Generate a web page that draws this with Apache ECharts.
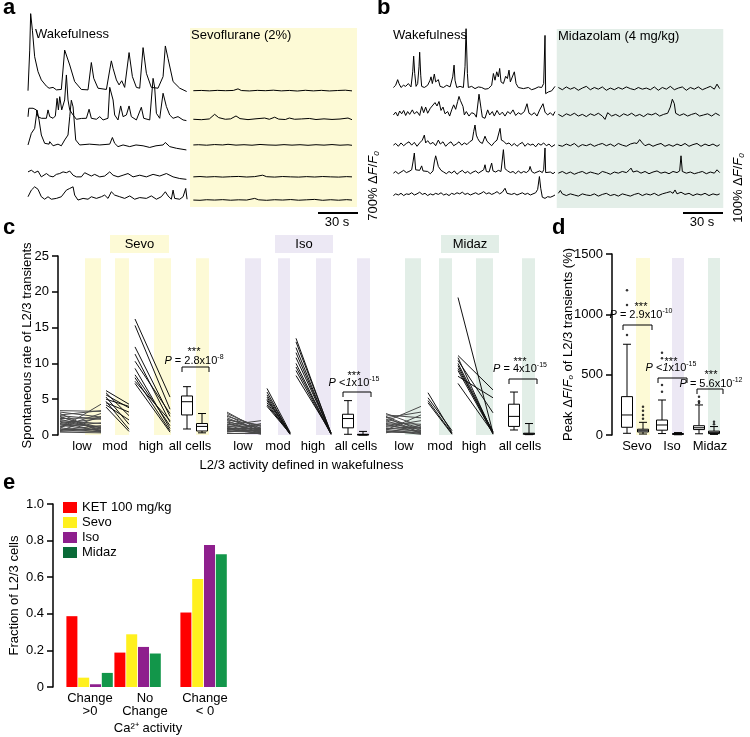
<!DOCTYPE html>
<html>
<head>
<meta charset="utf-8">
<script src="https://cdn.jsdelivr.net/npm/echarts/dist/echarts.min.js"></script>
<style>
html, body { margin: 0; padding: 0; background: #fff; }
#fig { width: 750px; height: 737px; }
</style>
</head>
<body>
<div id="fig"></div>
<script>
const FONT = '"Liberation Sans", Arial, sans-serif'

// ---- panel a: calcium traces, [time (s), dF/F0 (%)]
const aWake1 = [[0,0],[1.3,490],[2,930],[3.3,730],[5,410],[7.5,230],[10,130],[13.8,55],[15.8,30],[17,15],[18.8,40],[21.3,10],[25,15],[27.5,490],[28.8,500],[31.3,310],[35,110],[40,15],[45,10],[47.5,340],[49.3,150],[52.5,30],[58.8,15],[61.3,250],[62.5,360],[63.8,270],[66.3,130],[68.3,70],[70.3,120],[72.5,40],[75.8,460],[78.3,170],[81.3,40],[83.8,30],[86.3,520],[88.8,210],[92.5,40],[97.5,30],[101.3,170],[103,540],[105,390],[108.8,110],[113.8,30],[119,-10]]
const aWake2 = [[0,30],[0.6,133],[1.3,153],[3.8,133],[6.3,113],[7.5,32],[10,12],[13.8,12],[15,113],[16.3,32],[18.8,12],[20.5,40],[21.8,253],[22.8,113],[23.8,273],[25.3,113],[27.5,233],[28.8,535],[30,233],[31.3,113],[33.8,52],[36.3,0],[40,10],[43.8,12],[45.8,121],[47.5,12],[51.3,0],[53.8,32],[56.3,-8],[60,12],[61.3,386],[62.5,374],[63.8,233],[65,52],[67.5,-8],[69.5,161],[71.3,32],[73.8,52],[75.8,161],[77.5,32],[81.3,-8],[85,145],[86.8,12],[91.3,-8],[93.8,494],[95,386],[96.3,72],[98.8,12],[101.3,314],[103.8,153],[106.3,52],[108.8,12],[112.5,32],[116.3,-8],[118.8,-16]]
const aWake3 = [[0,0],[2.5,140],[5,200],[6.8,420],[8.3,300],[10,120],[12.5,20],[15.8,10],[16.3,40],[18.8,-10],[22.5,10],[25,-10],[27.5,60],[30,120],[31.3,340],[32.5,540],[33.8,460],[35.8,60],[38.8,0],[46,10],[53.8,0],[61.3,10],[63.3,90],[65,20],[67.5,-20],[71.3,0],[76.3,-20],[81,0],[86.3,-10],[91.3,-30],[96,-10],[101.3,0],[103,30],[106.3,-20],[111.3,-40],[118.8,-60]]
const aWake4 = [[0,60],[2.5,80],[5,50],[7.5,70],[10,0],[13.8,40],[16.3,10],[18.8,0],[21.3,30],[23.8,40],[26.3,60],[28.8,50],[31.3,70],[33.8,20],[36.3,0],[40,0],[42.5,50],[45,30],[47.5,10],[50,30],[53.8,0],[57.5,10],[61.3,60],[63.8,20],[67.5,0],[71.3,20],[75,40],[78.8,0],[83.8,20],[88.8,0],[93.8,30],[98.8,10],[103.8,40],[108.8,0],[113.8,-20],[118.8,-30]]
const aWake5 = [[0,40],[2.5,120],[5,160],[7.5,130],[10,40],[12.5,10],[15,40],[17.5,10],[21.3,20],[25,40],[28.8,120],[31.3,140],[33.8,160],[35,60],[37.5,0],[41.3,20],[45,10],[47.5,40],[51.3,20],[55,40],[57.5,60],[60,20],[62.5,100],[65,60],[68.8,40],[72.5,20],[76.3,50],[80,10],[83.8,30],[88.8,20],[92.5,50],[96.3,10],[100,40],[103,100],[105,50],[107.5,10],[108.8,120],[110,20],[113.8,10],[116.3,40],[118.3,140],[119.3,10]]
const aSevo1 = [[124,0],[130,3],[136,-2],[142,4],[148,0],[154,3],[157.5,22],[160,2],[166,-3],[172,4],[178,0],[184,6],[190,-2],[196,3],[202,-4],[208,5],[214,-2],[220,4],[226,-3],[232,2],[238,6],[243,-2]]
const aSevo2 = [[124,0],[130,-5],[136,4],[140,60],[143,20],[148,0],[152,5],[156,40],[159,8],[165,-4],[171,6],[177.5,15],[181,0],[185,25],[188,2],[193,-3],[196,15],[200,0],[205,4],[211,10],[216,-3],[222,5],[228,-2],[234,3],[240,15],[243,-5]]
const aSevo3 = [[124,0],[128,3],[134,-3],[140,5],[146,0],[150,8],[156,-2],[162,3],[168,-3],[174,6],[180,0],[186,-3],[192,4],[198,-2],[204,3],[210,-4],[216,3],[222,-2],[228,5],[234,-3],[240,2],[243,-4]]
const aSevo4 = [[124,0],[129,4],[134,-2],[140,3],[146,-3],[152,2],[158,5],[164,-2],[170,3],[176,20],[179,2],[185,-3],[191,4],[197,0],[203,-3],[209,3],[215,-2],[221,4],[227,0],[233,-3],[239,3],[243,0]]
const aSevo5 = [[124,0],[129,-3],[134,4],[140,0],[146,5],[152,-2],[158,3],[164,0],[170,20],[173,3],[179,-3],[185,4],[191,0],[197,6],[203,-2],[209,3],[215,8],[221,-3],[227,4],[233,-2],[239,5],[243,0]]

// ---- panel b
const bWake1 = [[0.3,2],[2,6],[3.5,16],[4.5,9],[6,2],[7.8,6],[9.5,4],[11.5,9],[13.5,3],[14.8,30],[15.5,58],[16.3,27],[17.3,4],[18.5,9],[19.5,39],[20,65],[20.8,24],[21.5,4],[23.5,2],[26,6],[27.8,15],[28.5,21],[29.5,9],[31,26],[32,12],[34,16],[35.3,4],[37.8,2],[40.3,6],[42.8,3],[44.8,21],[45.8,42],[46.5,15],[47.8,2],[50.3,4],[52.8,2],[54,39],[54.8,107],[55.8,27],[56.5,2],[59,4],[61.5,0],[64,3],[66.5,2],[69,-1],[71.5,0],[74,6],[75.3,27],[76.5,15],[77.8,30],[79,21],[80,36],[81,12],[82.8,9],[84.5,22],[85.8,18],[87,33],[88,12],[89.5,9],[91,30],[92.3,9],[94,2],[97.8,0],[101.5,2],[104,-2],[106.5,0],[109,3],[111.5,2],[113,9],[114,95],[114.5,-9],[116.5,-6],[119,-4],[121.5,4]]
const bWake2 = [[0.3,0],[2,5],[3.5,-2],[5,7],[6.5,2],[8,8],[9.5,-1],[11,6],[12.5,1],[14.5,9],[16,2],[18,6],[20,-1],[21.5,15],[23,4],[24.5,14],[26,3],[28,12],[29.5,9],[31.5,22],[33,16],[34.5,24],[36,8],[37.5,14],[39,2],[41,6],[42.5,-2],[44,9],[45.5,18],[47,10],[48.5,24],[49.5,33],[50.5,26],[51.5,28],[52.5,15],[53.5,0],[55,6],[57,-2],[59,4],[61,2],[62.5,-4],[64.5,37],[66,12],[67,-4],[69,-6],[71,9],[72.5,0],[74.5,6],[76,-2],[78,8],[80,0],[82,5],[84,-2],[86,6],[88,2],[90,9],[92,-1],[94,4],[96,1],[98.5,6],[100.5,20],[102,3],[104,0],[106,4],[108,-2],[110,9],[112.5,20],[114,5],[116,0],[118,4],[120,-1],[121.5,6]]
const bWake3 = [[0.3,0],[2,3],[4,-2],[6,4],[8,-1],[10,3],[12,6],[14,0],[16,5],[18,-2],[20,4],[22,9],[23.5,18],[24.5,4],[26,8],[28,2],[30,5],[32,-1],[34,9],[35.5,2],[37.5,6],[39.5,-2],[41.5,3],[43.5,6],[45.5,-1],[47.5,2],[49.5,6],[51.5,0],[53.5,4],[55.5,1],[57.5,6],[59.5,9],[60.5,24],[61.5,36],[62.5,18],[63.5,12],[65,6],[67,3],[69,16],[70.5,7],[72,4],[74,-1],[76,5],[78,9],[79,6],[80.3,30],[81.3,9],[83,7],[85,2],[87,4],[89,-1],[91,3],[93,-2],[95,2],[97,5],[99,-2],[101,3],[103,0],[105,2],[107,-3],[109,3],[111,0],[113,4],[115,-1],[117,2],[119,-3],[121.5,1]]
const bWake4 = [[0.3,0],[2,3],[4,-1],[6,2],[8,5],[10,1],[12,3],[14,6],[15,20],[16,36],[17,6],[18.5,3],[20,5],[21.5,13],[22.5,4],[24,1],[26,3],[28,-1],[30,4],[31,20],[32,31],[33,22],[34,12],[36,5],[38,2],[40,-1],[42,3],[44,0],[46,4],[48,-2],[50,2],[52,5],[54,0],[56,3],[58,-1],[60,2],[62,4],[64,0],[66,3],[68,6],[69,15],[70,3],[72,2],[74,18],[75,4],[77,2],[79,5],[81,3],[82.8,42],[84,8],[86,4],[88,1],[90,3],[92,-1],[94,4],[96,0],[98,3],[100,1],[102,5],[102.8,12],[104,3],[106,0],[108,2],[110,4],[112,1],[113,6],[114,45],[114.5,1],[116,-2],[118,2],[120,-1],[121.5,2]]
const bWake5 = [[0.3,-1],[2,2],[4,0],[6,3],[8,-1],[10,2],[12,1],[14,4],[16,0],[18,2],[20,5],[22,1],[24,3],[26,-1],[28,2],[30,0],[32,3],[34,1],[36,4],[38,0],[40,2],[42,-1],[44,3],[46,1],[48,4],[50,2],[52,5],[54,1],[56,3],[58,0],[60,2],[62,4],[64,1],[66,3],[68,6],[70,2],[72,4],[74,1],[76,3],[78,6],[80,2],[82,5],[84,12],[85.5,3],[87,5],[89,1],[91,3],[93,0],[95,2],[97,4],[99,1],[101,3],[103,0],[105,2],[107,4],[108.5,10],[109.8,33],[110.8,12],[112,-4],[114,-6],[116,-3],[118,-4],[120,-2],[121.5,0]]
const bMidaz1 = [[124,2],[127,-2],[130,3],[133,-1],[136,2],[139,-3],[142,1],[145,4],[148,-2],[151,2],[154,-1],[157,3],[160,-3],[163,1],[166,-2],[169,2],[172,-1],[175,3],[178,0],[181,-2],[184,2],[187,-1],[190,1],[193,-2],[196,3],[199,-3],[202,2],[205,-1],[208,4],[211,-2],[214,1],[217,3],[220,-3],[223,2],[226,-1],[229,3],[232,-2],[235,1],[238,4],[241,-1],[243,8],[245,0]]
const bMidaz2 = [[124,1],[127,-3],[130,2],[133,-1],[136,3],[139,-2],[142,1],[145,-3],[148,2],[151,-1],[154,3],[157,-2],[159,-8],[161,4],[164,-2],[167,1],[170,-3],[173,2],[176,-1],[179,3],[182,-2],[185,1],[188,-3],[191,2],[194,0],[197,3],[200,-2],[203,1],[206,3],[208,14],[209.5,28],[211,20],[212,3],[215,-1],[218,2],[221,-2],[224,1],[227,3],[230,-2],[233,0],[236,2],[239,-2],[242,3],[245,-1]]
const bMidaz3 = [[124,0],[127,-2],[130,2],[133,-1],[136,3],[139,-3],[142,1],[145,-1],[148,2],[151,-2],[154,1],[157,3],[160,-1],[163,2],[166,-2],[169,3],[172,0],[175,-2],[178,2],[181,4],[183,3],[185,10],[187,4],[189,-1],[192,2],[195,-2],[198,1],[201,3],[204,-2],[207,1],[210,-2],[213,2],[216,-1],[219,3],[222,-2],[225,1],[228,3],[231,-2],[234,2],[237,-1],[240,2],[243,-2],[245,1]]
const bMidaz4 = [[124,0],[127,3],[130,-1],[133,2],[136,-2],[139,1],[142,3],[145,-1],[148,2],[151,0],[154,-2],[157,3],[160,1],[163,-2],[166,2],[169,0],[172,3],[175,1],[177,5],[178.5,9],[180,2],[183,4],[186,0],[189,3],[192,-1],[195,2],[198,4],[201,0],[204,2],[207,-1],[210,3],[213,1],[215,4],[216,31],[217,3],[220,0],[223,2],[226,-1],[229,1],[232,3],[235,-1],[238,2],[241,0],[243,6],[245,1]]
const bMidaz5 = [[124,3],[125.5,8],[127,2],[130,-1],[133,2],[136,0],[139,-2],[142,2],[145,0],[148,-1],[151,2],[154,-2],[157,1],[160,3],[163,-1],[166,1],[169,-2],[172,2],[175,0],[178,-2],[181,1],[184,3],[187,-1],[190,2],[193,0],[196,3],[199,-1],[202,2],[205,4],[208,6],[210,3],[211.5,9],[213,2],[216,5],[219,1],[222,3],[225,-1],[228,2],[231,0],[234,3],[237,-1],[240,2],[243,0],[245,2]]

// ---- panel c: transient rate per cell [wakefulness, anaesthetic]
const cCats = ['low', 'mod', 'high', 'all cells']
const cSevoLow = [[3.4,3.3],[3.2,2.5],[3.0,0.4],[2.8,3.4],[2.7,2.2],[2.5,1.0],[2.3,2.4],[2.2,0.8],[2.0,1.6],[1.8,0.5],[1.6,2.3],[1.5,1.2],[1.4,0.6],[1.2,1.7],[1.0,0.4],[0.9,4.3],[0.8,0.7],[0.7,1.3],[0.6,0.5],[0.5,0.9],[0.4,0.3],[1.1,3.0],[2.6,0.6],[0.6,2.6],[1.9,1.0]]
const cSevoMod = [[6.2,4.3],[5.9,2.7],[5.6,3.8],[5.3,1.5],[5.0,4.0],[4.7,0.8],[4.5,3.2],[4.2,2.1],[3.9,0.5]]
const cSevoHigh = [[16.2,5.3],[15.3,3.6],[12.3,2.6],[11.3,1.8],[10.3,3.0],[9.3,0.9],[8.4,1.3],[8.0,0.6],[7.5,2.0],[7.2,0.4]]
const cIsoLow = [[3.2,0.6],[3.0,0.9],[2.8,0.3],[2.6,1.2],[2.4,0.5],[2.2,0.8],[2.0,0.2],[1.8,1.0],[1.7,0.4],[1.5,0.7],[1.4,2.0],[1.3,0.3],[1.2,1.3],[1.0,0.5],[0.9,0.9],[0.8,0.2],[0.7,0.6],[0.6,1.6],[0.5,0.4],[0.4,0.8],[0.3,0.3],[1.1,0.1],[2.1,1.4],[0.9,0.2]]
const cIsoMod = [[6.5,0.4],[6.0,0.2],[5.6,0.3],[5.3,0.1],[5.0,0.3],[4.8,0.2],[4.5,0.1],[4.2,0.3],[4.0,0.2]]
const cIsoHigh = [[13.5,0.2],[13.0,0.3],[12.2,0.1],[11.5,0.2],[10.8,0.3],[10.0,0.1],[9.5,0.2],[9.0,0.1],[8.3,0.3]]
const cMidazLow = [[3.0,1.2],[2.8,2.4],[2.6,0.6],[2.4,3.2],[2.2,1.0],[2.0,0.4],[1.9,4.0],[1.7,1.5],[1.5,0.3],[1.3,0.8],[1.2,2.0],[1.0,0.5],[0.9,1.1],[0.8,0.2],[0.7,2.8],[0.5,0.6],[0.4,0.3],[0.3,1.4],[2.5,0.2],[1.6,0.9],[0.6,0.1]]
const cMidazMod = [[5.9,0.3],[5.2,0.6],[4.8,0.2],[4.5,0.1]]
const cMidazHigh = [[19.2,0.3],[11.1,6.3],[10.8,0.2],[10.4,3.1],[10.0,0.4],[9.7,0.1],[9.3,0.5],[9.0,0.2],[8.2,5.2],[7.2,0.3]]
// box stats [min, q1, median, q3, max]: wakefulness, anaesthetic
const cSevoBox = [[0.84,2.8,4.65,5.45,6.75],[0.3,0.56,1.2,1.6,3.0]]
const cIsoBox = [[0.1,1.0,2.3,2.9,4.8],[0,0.02,0.05,0.1,0.5]]
const cMidazBox = [[0.7,1.2,2.6,4.3,6.0],[0.05,0.1,0.15,0.25,1.6]]

// ---- panel d: peak dF/F0 (%)
const dCats = ['Sevo', 'Iso', 'Midaz']
const dSevoBox = [[14,64,166,318,752],[8,25,35,48,105]]
const dSevoOut = [[829,1077,1200],[135,165,200,235]]
const dIsoBox = [[12,40,83,124,290],[2,5,8,12,20]]
const dIsoOut = [[359,414,636,682],[]]
const dMidazBox = [[10,45,60,77,249],[5,12,22,32,70]]
const dMidazOut = [[265,280,318],[90,110]]

// ---- panel e: fraction of cells
const eCats = ['Change\n>0', 'No\nChange', 'Change\n< 0']
const eKet = [0.387, 0.188, 0.407]
const eSevo = [0.051, 0.288, 0.59]
const eIso = [0.015, 0.219, 0.776]
const eMidaz = [0.077, 0.183, 0.725]

// ---- layout (pixels / axis units)
const aOffsets = [1320, 975, 665, 280, 0]
const bOffsets = [190, 143, 89, 39, 0]
const cLabelX = [82,115,151,190, 243,278,313,356, 404,440,474,520]
const cLineX = [[60,101],[106,129],[135,170], [227,261],[267,290],[296,331], [386,421],[428,452],[458,493]]
const cBandX = [[85,101],[115,129],[154,171],[196,209], [245,261],[278,290],[316,331],[357,370], [405,421],[439,452],[476,493],[522,535]]
const cBoxX = [[187,202],[348,363],[514,529]]
const dLabelX = [637, 672, 710]
const dBoxX = [[627,643],[662,678],[699,714]]
const dBandX = [[636,650],[672,684],[708,720]]
const eLabelX = [90, 145, 205]
const eGroupLeft = [66, 114, 180]
const ePitch = 11.8

const YELLOW = '#fdfad6', LAV = '#ece8f4', MINT = '#e2eee7'
const tick = { fontSize: 13, fontFamily: FONT, color: '#000' }
const axisBlack = { lineStyle: { color: '#000', width: 1.5 } }

function trace (data, off, ax) {
  return { type: 'line', xAxisIndex: ax, yAxisIndex: ax, symbol: 'none', silent: true, z: 3,
    data: data.map(p => [p[0], p[1] + off]), lineStyle: { color: '#000', width: 1 } }
}
function bar (ax, pts) {
  return { type: 'line', xAxisIndex: ax, yAxisIndex: ax, symbol: 'none', silent: true, clip: false, z: 3,
    data: pts, lineStyle: { color: '#000', width: 2 } }
}
function bands (ax, rows, colors) {
  return { type: 'custom', xAxisIndex: ax, yAxisIndex: ax, silent: true, z: 1, data: rows,
    renderItem: (params, api) => {
      const p0 = api.coord([api.value(0), api.value(3)])
      const p1 = api.coord([api.value(1), api.value(2)])
      return { type: 'rect', shape: { x: p0[0], y: p0[1], width: p1[0] - p0[0], height: p1[1] - p0[1] },
        style: { fill: colors[api.value(4)] } }
    } }
}
function boxes (ax, rows, hw, cap) {
  return { type: 'custom', xAxisIndex: ax, yAxisIndex: ax, silent: true, z: 4, data: rows,
    renderItem: (params, api) => {
      const x = api.value(0)
      const y = [1, 2, 3, 4, 5].map(i => api.coord([x, api.value(i)])[1])
      const cx = api.coord([x, 0])[0]
      const st = { stroke: '#000', lineWidth: 1 }
      return { type: 'group', children: [
        { type: 'line', shape: { x1: cx, y1: y[4], x2: cx, y2: y[3] }, style: st },
        { type: 'line', shape: { x1: cx, y1: y[1], x2: cx, y2: y[0] }, style: st },
        { type: 'line', shape: { x1: cx - cap, y1: y[4], x2: cx + cap, y2: y[4] }, style: st },
        { type: 'line', shape: { x1: cx - cap, y1: y[0], x2: cx + cap, y2: y[0] }, style: st },
        { type: 'rect', shape: { x: cx - hw, y: y[3], width: 2 * hw, height: Math.max(y[1] - y[3], 0.8) },
          style: { stroke: '#000', fill: '#fff', lineWidth: 1 } },
        { type: 'line', shape: { x1: cx - hw, y1: y[2], x2: cx + hw, y2: y[2] }, style: st }
      ] }
    } }
}

const series = []
// panel a
series.push(bands(0, [[121.5, 246.75, -84, 2077, 0]], [YELLOW]))
;[aWake1, aWake2, aWake3, aWake4, aWake5].forEach((d, i) => series.push(trace(d, aOffsets[i], 0)))
;[aSevo1, aSevo2, aSevo3, aSevo4, aSevo5].forEach((d, i) => series.push(trace(d, aOffsets[i], 0)))
series.push(bar(0, [[249.75, -110], [249.75, 590]]))
series.push(bar(0, [[217.5, -156], [247.5, -156]]))
// panel b
series.push(bands(1, [[122.8, 247.7, -23.2, 296.5, 0]], ['#e3eee8']))
;[bWake1, bWake2, bWake3, bWake4, bWake5].forEach((d, i) => series.push(trace(d, bOffsets[i], 1)))
;[bMidaz1, bMidaz2, bMidaz3, bMidaz4, bMidaz5].forEach((d, i) => series.push(trace(d, bOffsets[i], 1)))
series.push(bar(1, [[250.5, -23], [250.5, 77]]))
series.push(bar(1, [[217.5, -32], [247.5, -32]]))
// panel c
series.push(bands(2, cBandX.map((b, i) => [b[0], b[1], 0, 24.7, Math.floor(i / 4)]), [YELLOW, LAV, MINT]))
const cGroups = [cSevoLow, cSevoMod, cSevoHigh, cIsoLow, cIsoMod, cIsoHigh, cMidazLow, cMidazMod, cMidazHigh]
cGroups.forEach((g, i) => {
  series.push({ type: 'lines', coordinateSystem: 'cartesian2d', xAxisIndex: 2, yAxisIndex: 2, silent: true, z: 3,
    lineStyle: { color: i % 3 === 0 ? '#4a4a4a' : '#111', width: 1, opacity: 1 },
    data: g.map(p => ({ coords: [[cLineX[i][0], p[0]], [cLineX[i][1], p[1]]] })) })
})
const cBoxRows = []
;[cSevoBox, cIsoBox, cMidazBox].forEach((b, g) => b.forEach((s, k) => cBoxRows.push([cBoxX[g][k]].concat(s))))
series.push(boxes(2, cBoxRows, 5.5, 4))
// panel d
series.push(bands(3, dBandX.map((b, i) => [b[0], b[1], 0, 1467, i]), [YELLOW, LAV, MINT]))
const dBoxRows = [], dOutPts = []
;[dSevoBox, dIsoBox, dMidazBox].forEach((b, g) => b.forEach((s, k) => dBoxRows.push([dBoxX[g][k]].concat(s))))
;[dSevoOut, dIsoOut, dMidazOut].forEach((o, g) => o.forEach((vals, k) => vals.forEach(v => dOutPts.push([dBoxX[g][k], v]))))
series.push(boxes(3, dBoxRows, 5.5, 4))
series.push({ type: 'scatter', xAxisIndex: 3, yAxisIndex: 3, silent: true, z: 5, symbolSize: 2.5,
  itemStyle: { color: '#000' }, data: dOutPts })
// panel e
const eSeries = [['KET 100 mg/kg', eKet, '#ff0000'], ['Sevo', eSevo, '#fff01e'], ['Iso', eIso, '#8e1f8d'], ['Midaz', eMidaz, '#12964a']]
eSeries.forEach((s, k) => {
  series.push({ type: 'bar', name: s[0], xAxisIndex: 4, yAxisIndex: 4, barWidth: 11, barGap: '-100%', silent: true,
    itemStyle: { color: s[2] },
    data: s[1].map((v, g) => [eGroupLeft[g] + ePitch * (k + 0.5), v]) })
})

// ---- annotations
const rich = {
  n: { fontSize: 11, fontFamily: FONT, fill: '#000', lineHeight: 14 },
  i: { fontSize: 11, fontFamily: FONT, fontStyle: 'italic', fill: '#000', lineHeight: 14 },
  s: { fontSize: 7, fontFamily: FONT, fill: '#000', verticalAlign: 'top', lineHeight: 9 },
  b: { fontSize: 13, fontFamily: FONT, fill: '#000', lineHeight: 16 },
  bi: { fontSize: 13, fontFamily: FONT, fontStyle: 'italic', fill: '#000', lineHeight: 16 },
  sub: { fontSize: 8, fontFamily: FONT, fontStyle: 'italic', fill: '#000', verticalAlign: 'bottom', lineHeight: 14 }
}
function txt (x, y, text, size, opt) {
  opt = opt || {}
  return { type: 'text', x: x, y: y, z: 10, rotation: opt.rot || 0, silent: true,
    style: { text: text, fontSize: size, fontFamily: FONT, fontWeight: opt.bold ? 'bold' : 'normal',
      fill: '#000', align: opt.align || 'left', verticalAlign: 'middle', rich: rich } }
}
function pval (x, yStar, yP, text) {
  return [txt(x, yStar, '***', 11, { align: 'center' }), txt(x, yP, text, 11, { align: 'center' })]
}
function bracket (x1, x2, y) {
  return { type: 'polyline', z: 10, silent: true, shape: { points: [[x1, y + 5], [x1, y], [x2, y], [x2, y + 5]] },
    style: { stroke: '#000', lineWidth: 1, fill: null } }
}
function labelBox (x1, x2, y1, y2, color, text) {
  return [{ type: 'rect', z: 2, silent: true, shape: { x: x1, y: y1, width: x2 - x1, height: y2 - y1 }, style: { fill: color } },
    txt((x1 + x2) / 2, (y1 + y2) / 2, text, 13, { align: 'center' })]
}

const graphic = [
  txt(3, 8, 'a', 22, { bold: true }), txt(377, 8, 'b', 22, { bold: true }),
  txt(3, 228, 'c', 22, { bold: true }), txt(552, 228, 'd', 22, { bold: true }),
  txt(3, 483, 'e', 22, { bold: true }),
  txt(35, 34, 'Wakefulness', 13), txt(191, 35, 'Sevoflurane (2%)', 13),
  txt(393, 35, 'Wakefulness', 13), txt(558, 36, 'Midazolam (4 mg/kg)', 13),
  txt(337, 222, '30 s', 13, { align: 'center' }), txt(702, 222, '30 s', 13, { align: 'center' }),
  txt(373, 186, '{b|700% Δ}{bi|F}{b|/}{bi|F}{sub|0}', 13, { align: 'center', rot: Math.PI / 2 }),
  txt(738, 188, '{b|100% Δ}{bi|F}{b|/}{bi|F}{sub|0}', 13, { align: 'center', rot: Math.PI / 2 }),
  ...labelBox(110, 169, 235, 253, YELLOW, 'Sevo'),
  ...labelBox(275, 333, 235, 253, LAV, 'Iso'),
  ...labelBox(441, 499, 235, 253, MINT, 'Midaz'),
  ...pval(194, 352, 361, '{i|P}{n| = 2.8x10}{s|-8}'), bracket(182, 209, 367),
  ...pval(354, 376, 383, '{i|P}{n| <}{i|1}{n|x10}{s|-15}'), bracket(343, 371, 392),
  ...pval(520, 362, 369, '{i|P}{n| = 4x10}{s|-15}'), bracket(509, 537, 379),
  ...pval(641, 307, 315, '{i|P}{n| = 2.9x10}{s|-10}'), bracket(623, 652, 325),
  ...pval(671, 362, 368, '{i|P}{n| <}{i|1}{n|x10}{s|-15}'), bracket(658, 687, 378),
  ...pval(711, 375, 384, '{i|P}{n| = 5.6x10}{s|-12}'), bracket(697, 723, 389)
]

function customX (grid, min, max, vals, names, opt) {
  return Object.assign({ type: 'value', gridIndex: grid, min: min, max: max,
    axisLine: { show: false }, axisTick: { show: false }, splitLine: { show: false },
    axisLabel: Object.assign({ customValues: vals, margin: 5,
      formatter: v => names[vals.indexOf(v)] || '' }, tick) }, opt || {})
}
function hiddenAxis (grid, min, max) {
  return { type: 'value', gridIndex: grid, min: min, max: max, show: false }
}
function leftY (grid, max, interval, name, gap, fmt) {
  return { type: 'value', gridIndex: grid, min: 0, max: max, interval: interval,
    axisLine: Object.assign({ show: true }, axisBlack), axisTick: { show: true, length: 6, lineStyle: { color: '#000', width: 1.5 } },
    splitLine: { show: false }, axisLabel: Object.assign({ margin: 9, formatter: fmt || (v => String(v)) }, tick),
    name: name, nameLocation: 'middle', nameGap: gap, nameRotate: 90, nameMoveOverlap: false,
    nameTextStyle: Object.assign({ rich: { i: { fontSize: 13, fontStyle: 'italic', fontFamily: FONT, color: '#000' },
      sub: { fontSize: 8, fontStyle: 'italic', fontFamily: FONT, color: '#000', verticalAlign: 'bottom' } } }, tick) }
}

const option = {
  animation: false,
  backgroundColor: '#fff',
  textStyle: { fontFamily: FONT },
  grid: [
    { left: 28, top: 10, width: 330, height: 200 },
    { left: 393, top: 10, width: 330, height: 200 },
    { left: 58, top: 256, width: 487, height: 179 },
    { left: 612, top: 254, width: 128, height: 181 },
    { left: 53, top: 504, width: 190, height: 183 }
  ],
  xAxis: [
    hiddenAxis(0, 0, 247.5),
    hiddenAxis(1, 0, 247.5),
    customX(2, 58, 545, cLabelX, cLabelX.map((x, i) => cCats[i % 4]),
      { name: 'L2/3 activity defined in wakefulness', nameLocation: 'middle', nameGap: 24, nameTextStyle: tick }),
    customX(3, 612, 740, dLabelX, dCats),
    customX(4, 53, 243, eLabelX, eCats, { name: 'Ca²⁺ activity', nameLocation: 'middle', nameGap: 35, nameTextStyle: tick })
  ],
  yAxis: [
    hiddenAxis(0, -120, 2294),
    hiddenAxis(1, -26.8, 330.4),
    leftY(2, 25, 5, 'Spontaneous rate of L2/3 transients', 24),
    leftY(3, 1500, 500, 'Peak Δ{i|F}/{i|F}{sub|o} of L2/3 transients (%)', 37),
    leftY(4, 1, 0.2, 'Fraction of L2/3 cells', 32, v => v === 0 ? '0' : v.toFixed(1))
  ],
  legend: {
    data: eSeries.map((s, k) => k === 3 ? { name: s[0], itemStyle: { color: '#0a6b38' } } : s[0]),
    orient: 'vertical', left: 63, top: 501, itemWidth: 14, itemHeight: 11, itemGap: 2, padding: 0,
    icon: 'rect', selectedMode: false, textStyle: { fontSize: 13, fontFamily: FONT, color: '#000' }
  },
  graphic: graphic,
  series: series
}

const chart = echarts.init(document.getElementById('fig'))
chart.setOption(option)
</script>
</body>
</html>
